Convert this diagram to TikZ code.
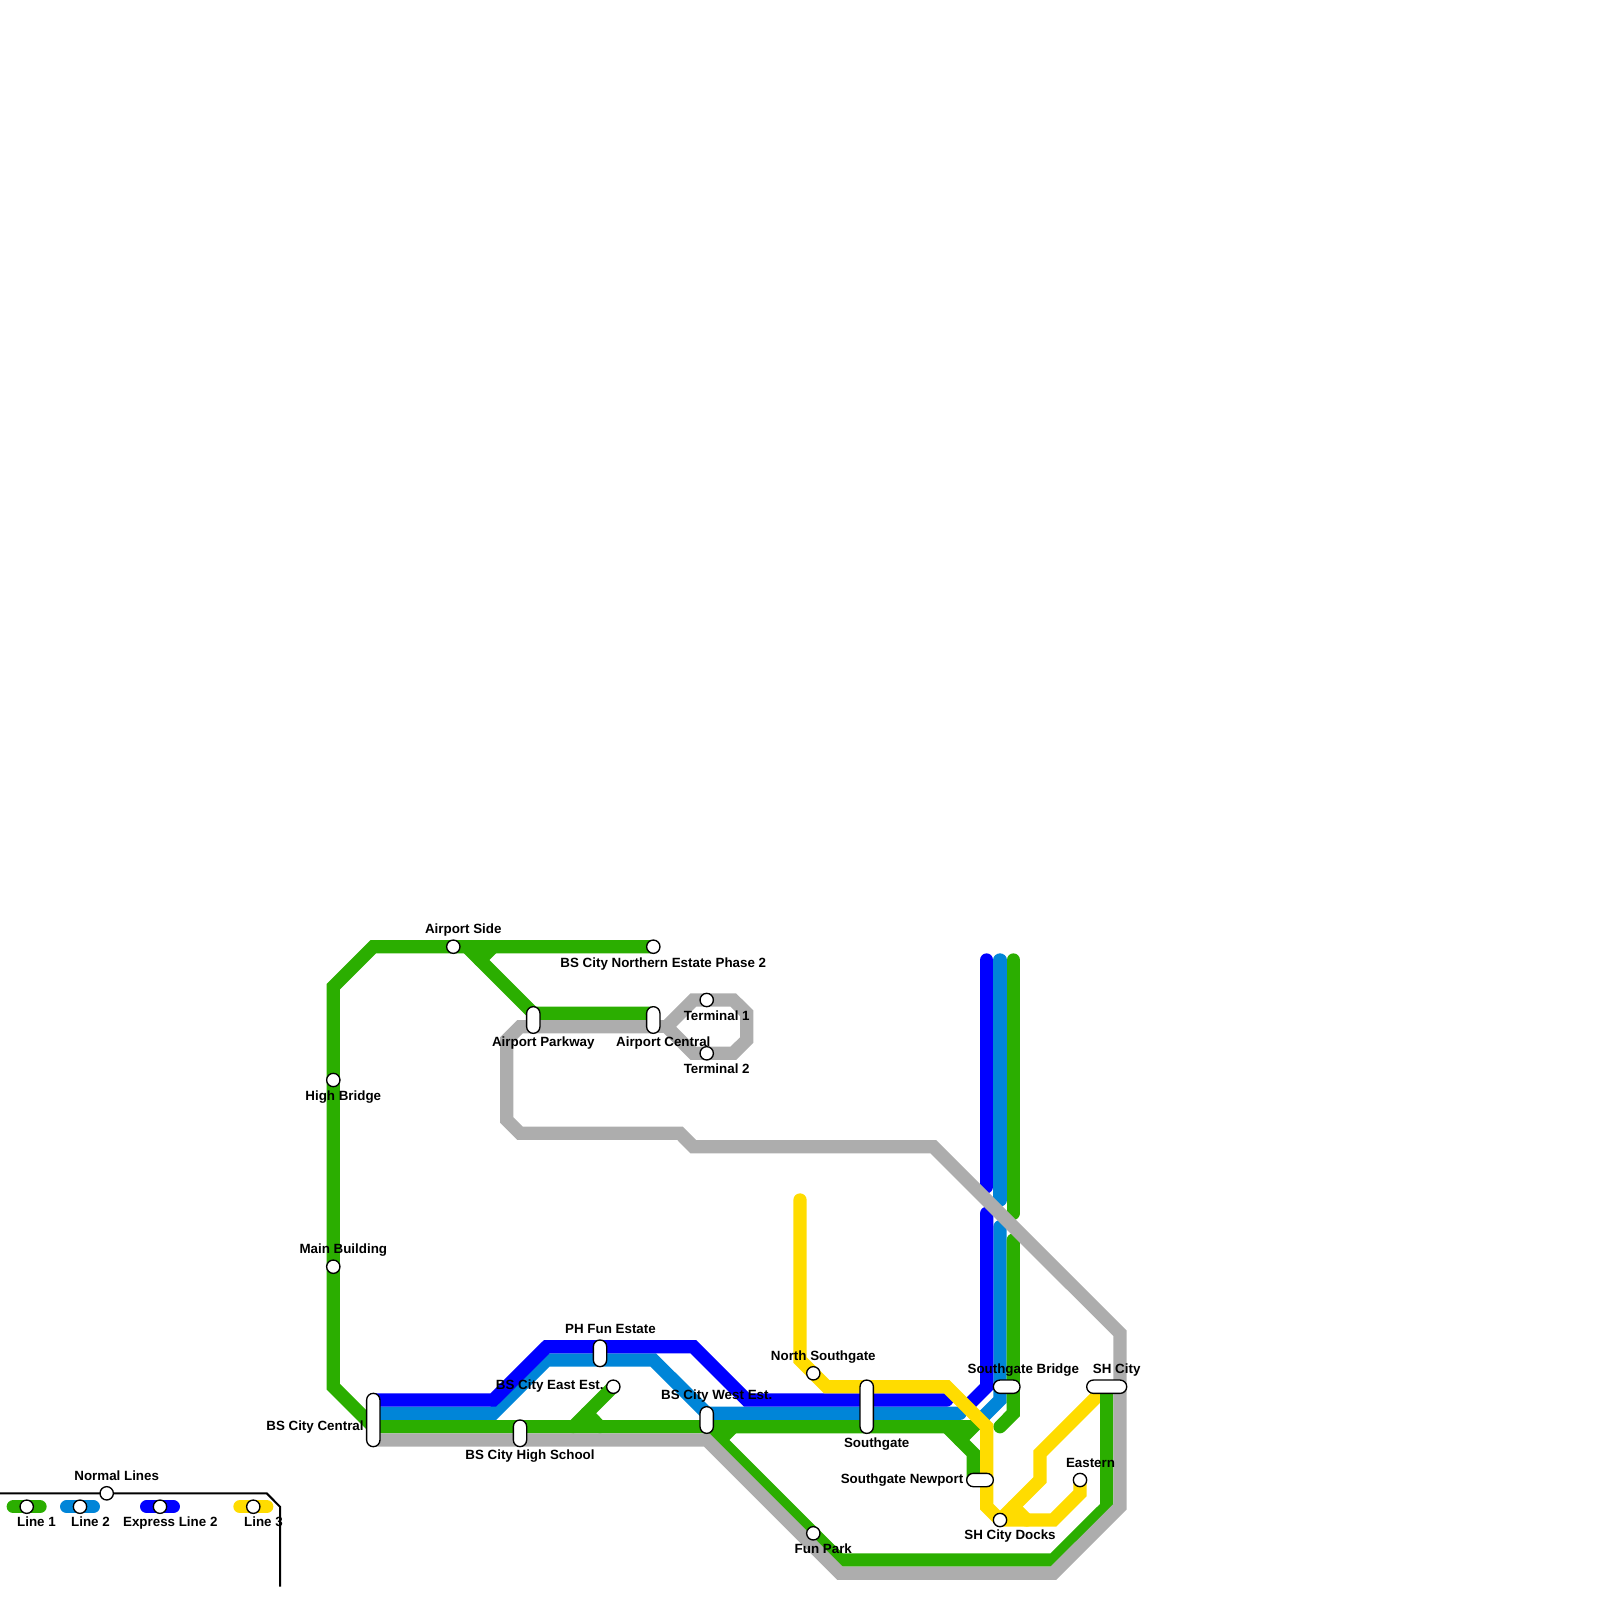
\documentclass[tikz,border=0pt]{standalone}
\usepackage{fontspec}
\setmainfont{Liberation Sans}
\definecolor{mlineone}{RGB}{43,174,0}
\definecolor{mlinetwo}{RGB}{0,133,216}
\definecolor{mexpress}{RGB}{0,0,255}
\definecolor{mlinethree}{RGB}{255,220,0}
\definecolor{mgrey}{RGB}{173,173,173}
\usetikzlibrary{backgrounds}
\tikzset{
  metro/.style={line width=3.79pt, line cap=round, line join=miter, miter limit=10},
  stn/.style={draw=black, fill=white, circle, line width=0.38pt, minimum size=0.1333cm, inner sep=0pt, outer sep=0pt},
  capv/.style={draw=black, fill=white, rectangle, rounded corners=0.0666cm, line width=0.38pt, minimum width=0.1333cm, inner sep=0pt, outer sep=0pt},
  caph/.style={draw=black, fill=white, rectangle, rounded corners=0.0666cm, line width=0.38pt, minimum height=0.1333cm, inner sep=0pt, outer sep=0pt},
  lbl/.style={font=\fontsize{3.8}{4.5}\selectfont\bfseries, inner sep=0pt, text=black}
}

\begin{document}
\begin{tikzpicture}[x=0.01cm, y=-0.01cm]
  \useasboundingbox (0,0) rectangle (1600,1600);

  % Stations on the left loop
  \node[stn] (airportside) at (453.3,946.7) {};
  \node[stn] (northern) at (653.3,946.7) {};
  \node[stn] (highbridge) at (333.3,1080) {};
  \node[stn] (mainbuilding) at (333.3,1266.7) {};
  \node[capv, minimum height=0.5333cm] (central) at (373.3,1420) {};
  \node[capv, minimum height=0.2667cm] (highschool) at (520,1433.3) {};
  \node[capv, minimum height=0.2667cm] (phfun) at (600,1353.3) {};
  \node[stn] (eastest) at (613.3,1386.7) {};
  \node[capv, minimum height=0.2667cm] (westest) at (706.7,1420) {};

  % Airport stations
  \node[capv, minimum height=0.2667cm] (parkway) at (533.3,1020) {};
  \node[capv, minimum height=0.2667cm] (airportcentral) at (653.3,1020) {};
  \node[stn] (terminalone) at (706.7,1000) {};
  \node[stn] (terminaltwo) at (706.7,1053.3) {};

  % Stations on the right side
  \node[stn] (northsouthgate) at (813.3,1373.3) {};
  \node[capv, minimum height=0.5333cm] (southgate) at (866.7,1406.7) {};
  \node[caph, minimum width=0.2667cm] (newport) at (980,1480) {};
  \node[caph, minimum width=0.2667cm] (bridge) at (1006.7,1386.7) {};
  \node[caph, minimum width=0.4cm] (shcity) at (1106.7,1386.7) {};
  \node[stn] (eastern) at (1080,1480) {};
  \node[stn] (docks) at (1000,1520) {};
  \node[stn] (funpark) at (813.3,1533.3) {};

  % Legend stations
  \node[stn] (normal) at (106.7,1493.3) {};
  \node[stn] (legone) at (26.7,1506.7) {};
  \node[stn] (legtwo) at (80,1506.7) {};
  \node[stn] (legexpress) at (160,1506.7) {};
  \node[stn] (legthree) at (253.3,1506.7) {};

  % Free line ends
  \coordinate (bluetop) at (986.7,960);
  \coordinate (bluecutup) at (986.7,1186.7);
  \coordinate (bluecutdown) at (986.7,1213.3);
  \coordinate (twotop) at (1000,960);
  \coordinate (twocutup) at (1000,1200);
  \coordinate (twocutdown) at (1000,1226.7);
  \coordinate (onetop) at (1013.3,960);
  \coordinate (onecutup) at (1013.3,1213.3);
  \coordinate (onecutdown) at (1013.3,1240);
  \coordinate (threetop) at (800,1200);
  \coordinate (westgrey) at (706.7,1440);
  \coordinate (loopstart) at (666.7,1026.7);

  % Line 2 and express line
  \begin{scope}[on background layer]
    \draw[metro, mlinetwo] (central.center |- 0,1413.3) -- (493.3,1413.3) -- (546.7,1360) -- (653.3,1360) -- (706.7,1413.3) -- (960,1413.3);
    \draw[metro, mlinetwo] (twotop) -- (twocutup);
    \draw[metro, mlinetwo] (twocutdown) -- (1000,1400) -- (980,1420);
    \draw[metro, mexpress] (central.center |- 0,1400) -- (493.3,1400) -- (546.7,1346.7) -- (693.3,1346.7) -- (746.7,1400) -- (946.7,1400);
    \draw[metro, mexpress] (bluetop) -- (bluecutup);
    \draw[metro, mexpress] (bluecutdown) -- (986.7,1386.7) -- (966.7,1406.7);

    % Line 3 towards SH City
    \draw[metro, mlinethree] (docks.center) -- (1040,1480) -- (1040,1453.3) -- (1100,1393.3);

    % Line 1
    \draw[metro, mlineone] (onetop) -- (onecutup);
    \draw[metro, mlineone] (onecutdown) -- (1013.3,1413.3) -- (1000,1426.7);
    \draw[metro, mlineone] (northern.center) -- (373.3,946.7) -- (333.3,986.7) -- (333.3,1386.7) -- (373.3,1426.7) -- (973.3,1426.7) -- (960,1440);
    \draw[metro, mlineone] (493.3,946.7) -- (480,960);
    \draw[metro, mlineone] (466.7,946.7) -- (533.3,1013.3) -- (airportcentral.center |- 0,1013.3);
    \draw[metro, mlineone] (eastest.center) -- (573.3,1426.7);
    \draw[metro, mlineone] (586.7,1413.3) -- (600,1426.7);
    \draw[metro, mlineone] (946.7,1426.7) -- (973.3,1453.3) -- (973.3,1480);
    \draw[metro, mlineone] (733.3,1426.7) -- (720,1440);
    \draw[metro, mlineone] (706.7,1426.7) -- (840,1560) -- (1053.3,1560) -- (1106.7,1506.7) -- (1106.7,1386.7);

    % Grey line
    \draw[metro, mgrey] (airportcentral.center |- 0,1026.7) -- (520,1026.7) -- (506.7,1040) -- (506.7,1120) -- (520,1133.3) -- (680,1133.3) -- (693.3,1146.7) -- (933.3,1146.7) -- (1120,1333.3) -- (1120,1506.7) -- (1053.3,1573.3) -- (840,1573.3) -- (westgrey) -- (central.center |- westgrey);
    \draw[metro, mgrey] (airportcentral.center |- 0,1026.7) -- (loopstart);
    \draw[metro, mgrey] (loopstart) -- (693.3,1000) -- (733.3,1000) -- (746.7,1013.3) -- (746.7,1040) -- (733.3,1053.3) -- (693.3,1053.3) -- cycle;

    % Line 3
    \draw[metro, mlinethree] (threetop) -- (800,1360) -- (826.7,1386.7) -- (946.7,1386.7) -- (986.7,1426.7) -- (986.7,1506.7) -- (docks.center) -- (1053.3,1520) -- (1080,1493.3) -- (eastern.center);
    \draw[metro, mlinethree] (1013.3,1506.7) -- (1026.7,1520);

    % Legend lines
    \draw[metro, mlineone] (13.3,1506.7) -- (40,1506.7);
    \draw[metro, mlinetwo] (66.7,1506.7) -- (93.3,1506.7);
    \draw[metro, mexpress] (146.7,1506.7) -- (173.3,1506.7);
    \draw[metro, mlinethree] (240,1506.7) -- (266.7,1506.7);
    \draw[line width=0.57pt, black] (0,1493.3) -- (normal) -- (266.7,1493.3) -- (280,1506.7) -- (280,1586.7);
  \end{scope}

  % Labels
  \node[lbl] (airportsidetxt) at (463.3,930.3) {Airport Side};
  \node[lbl] (northerntxt) at (663.3,963.7) {BS City Northern Estate Phase 2};
  \node[lbl] (parkwaytxt) at (543.3,1042.7) {Airport Parkway};
  \node[lbl] (airportcentraltxt) at (663.3,1042.7) {Airport Central};
  \node[lbl] (terminalonetxt) at (716.7,1016) {Terminal 1};
  \node[lbl] (terminaltwotxt) at (716.7,1068.3) {Terminal 2};
  \node[lbl] (highbridgetxt) at (343.3,1097) {High Bridge};
  \node[lbl] (mainbuildingtxt) at (343.3,1250.3) {Main Building};
  \node[lbl] (phfuntxt) at (610.5,1329.3) {PH Fun Estate};
  \node[lbl] (eastesttxt) at (549.8,1386) {BS City East Est.};
  \node[lbl] (centraltxt) at (315,1427) {BS City Central};
  \node[lbl] (highschooltxt) at (530,1456) {BS City High School};
  \node[lbl] (westesttxt) at (716.7,1396) {BS City West Est.};
  \node[lbl] (northsouthgatetxt) at (823.3,1357) {North Southgate};
  \node[lbl] (southgatetxt) at (876.7,1443.7) {Southgate};
  \node[lbl] (newporttxt) at (902,1480.3) {Southgate Newport};
  \node[lbl] (bridgetxt) at (1023.3,1370.3) {Southgate Bridge};
  \node[lbl] (shcitytxt) at (1116.7,1370.3) {SH City};
  \node[lbl] (easterntxt) at (1090.5,1462.7) {Eastern};
  \node[lbl] (dockstxt) at (1010,1536) {SH City Docks};
  \node[lbl] (funparktxt) at (823.3,1548.3) {Fun Park};
  \node[lbl] (normaltxt) at (116.7,1476) {Normal Lines};
  \node[lbl] (legonetxt) at (36.5,1522.2) {Line 1};
  \node[lbl] (legtwotxt) at (90.5,1522.2) {Line 2};
  \node[lbl] (legexpresstxt) at (170.3,1522.7) {Express Line 2};
  \node[lbl] (legthreetxt) at (263.5,1522.2) {Line 3};
\end{tikzpicture}
\end{document}
